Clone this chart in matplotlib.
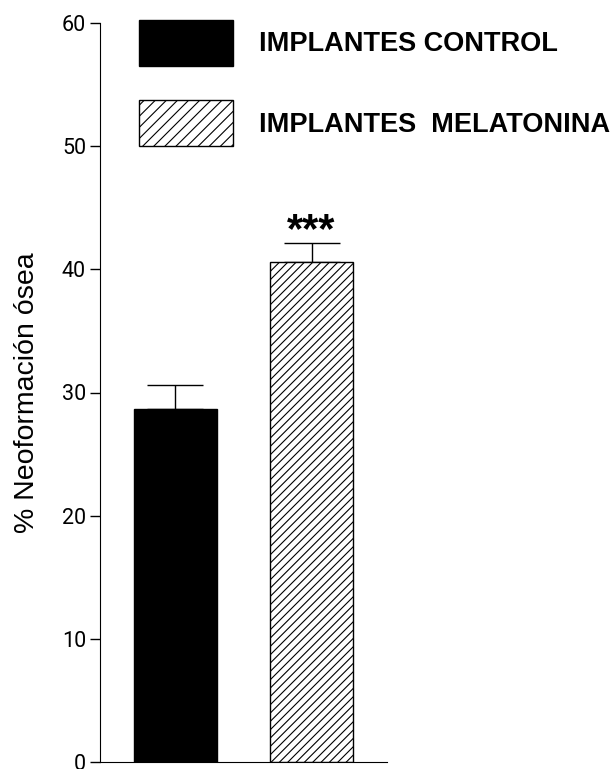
import matplotlib
matplotlib.use('Agg')
from matplotlib import pyplot as plt
from matplotlib.patches import Patch

groups = ['IMPLANTES CONTROL', 'IMPLANTES  MELATONINA']
means = [28.7, 40.6]
errs = [1.9, 1.5]
hatches = ['', '////']
legend_hatches = ['', '///']
colors = ['black', 'white']
signif = ['', '***']
yticks = [0, 10, 20, 30, 40, 50, 60]

plt.rcParams['font.family'] = ['Liberation Sans', 'DejaVu Sans']
plt.rcParams['hatch.linewidth'] = 0.8

fig = plt.figure(figsize=(6.16, 7.69), dpi=100)
ax = fig.add_axes([100/616, 7/769, 287/616, 739/769])

x = [1, 2]
bars = ax.bar(x, means, width=0.61, color=colors, edgecolor='black',
              linewidth=1.0, zorder=2)
for b, h in zip(bars, hatches):
    b.set_hatch(h)
ax.errorbar(x, means, yerr=[[0, 0], errs], fmt='none', ecolor='black',
            elinewidth=1.0, capsize=20, capthick=1.0, zorder=1)
for xi, m, e, s in zip(x, means, errs, signif):
    if s:
        ax.text(xi, m + e - 0.6, s, ha='center', va='bottom',
                fontsize=30, fontweight='bold')

ax.set_xlim(0.445, 2.555)
ax.set_ylim(0, 60)
ax.set_yticks(yticks)
ax.set_xticks([])
ax.spines['top'].set_visible(False)
ax.spines['right'].set_visible(False)
ax.tick_params(axis='y', direction='out', length=7, width=1.0,
               labelsize=15.5, pad=3)
for lab in ax.get_yticklabels():
    lab.set_family(['Roboto', 'DejaVu Sans'])
ax.set_ylabel('% Neoformación ósea', fontsize=20.5)
ax.yaxis.set_label_coords(-60/287, 0.50)

handles = [Patch(facecolor=c, edgecolor='black', hatch=h, linewidth=1.0)
           for c, h in zip(colors, legend_hatches)]
fig.legend(handles, groups, loc='upper left',
           bbox_to_anchor=(139/616, 1 - 20/769), frameon=False,
           prop={'size': 19.5, 'weight': 'bold'},
           handlelength=3.47, handleheight=2.24, labelspacing=1.26,
           handletextpad=0.95, borderpad=0, borderaxespad=0)

fig.savefig('out.png', dpi=100)
